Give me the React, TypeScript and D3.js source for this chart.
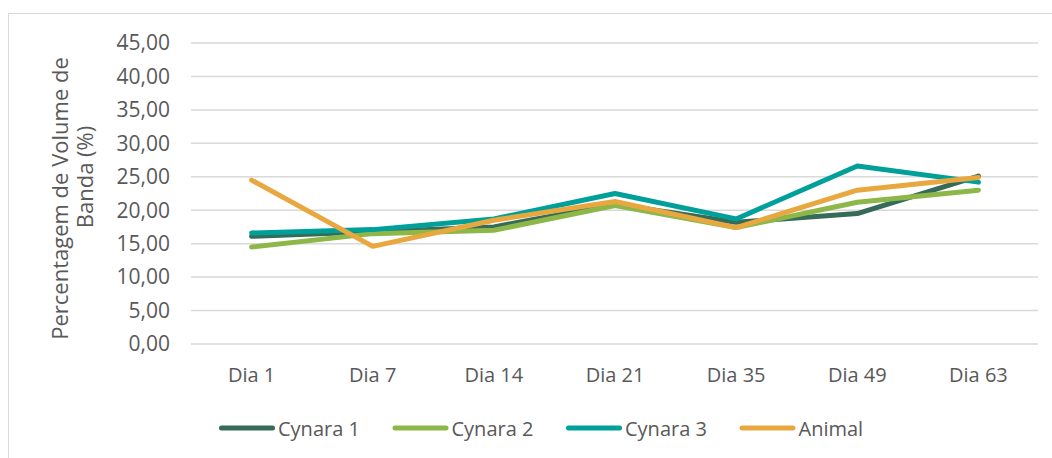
import React from "react";
import * as d3 from "d3";

const categories = ["Dia 1", "Dia 7", "Dia 14", "Dia 21", "Dia 35", "Dia 49", "Dia 63"];
const seriesNames = ["Cynara 1", "Cynara 2", "Cynara 3", "Animal"];
const cynara1 = [16.1, 16.8, 17.5, 20.9, 18.2, 19.5, 25.1];
const cynara2 = [14.5, 16.5, 17.0, 20.7, 17.4, 21.2, 23.0];
const cynara3 = [16.6, 17.1, 18.7, 22.5, 18.7, 26.6, 24.2];
const animal = [24.5, 14.6, 18.5, 21.3, 17.4, 23.0, 24.9];
const yTicks = [0, 5, 10, 15, 20, 25, 30, 35, 40, 45];
const colors = ["#356B58", "#8DB849", "#00A09A", "#E9A83F"];

const W = 1052;
const H = 458;
const FONT = "'Open Sans', 'Liberation Sans', sans-serif";
const TEXT = "#595959";

export default function App() {
  const allSeries = [cynara1, cynara2, cynara3, animal];
  const x = d3.scalePoint<string>().domain(categories).range([191, 1039]).padding(0.5);
  const y = d3.scaleLinear().domain([0, 45]).range([344, 43]);
  const line = d3
    .line<number>()
    .x((_, i) => x(categories[i]) as number)
    .y((d) => y(d));
  const fmt = (v: number) => v.toFixed(2).replace(".", ",");

  const legendStart = 219;
  const legendStep = 173.5;
  const legendLine = 56;

  return (
    <svg
      width={W}
      height={H}
      style={{ position: "absolute", left: 0, top: 0, display: "block", background: "#fff" }}
      fontFamily={FONT}
    >
      <rect x={8.5} y={13.5} width={1200} height={600} fill="#fff" stroke="#D9D9D9" strokeWidth={1} />
      {yTicks.map((t) => (
        <g key={t}>
          <line x1={191} x2={1038} y1={y(t)} y2={y(t)} stroke="#D9D9D9" strokeWidth={1.5} />
          <text x={170} y={y(t)} dy="0.35em" textAnchor="end" fontSize={21} fill={TEXT}>
            {fmt(t)}
          </text>
        </g>
      ))}
      {categories.map((c) => (
        <text key={c} x={x(c)} y={381.5} textAnchor="middle" fontSize={20} fill={TEXT}>
          {c}
        </text>
      ))}
      <g transform="translate(68,198.5) rotate(-90)">
        <text x={0} y={0} textAnchor="middle" fontSize={22} fill={TEXT}>
          Percentagem de Volume de
        </text>
      </g>
      <g transform="translate(93,177) rotate(-90)">
        <text x={0} y={0} textAnchor="middle" fontSize={22} fill={TEXT}>
          Banda (%)
        </text>
      </g>
      {allSeries.map((s, i) => (
        <path
          key={seriesNames[i]}
          d={line(s) || ""}
          fill="none"
          stroke={colors[i]}
          strokeWidth={5}
          strokeLinejoin="round"
          strokeLinecap="round"
        />
      ))}
      {seriesNames.map((n, i) => {
        const lx = legendStart + i * legendStep;
        return (
          <g key={n}>
            <line
              x1={lx + 2.5}
              x2={lx + legendLine - 2.5}
              y1={428}
              y2={428}
              stroke={colors[i]}
              strokeWidth={5}
              strokeLinecap="round"
            />
            <text x={lx + legendLine + 3} y={435.5} fontSize={20} fill={TEXT}>
              {n}
            </text>
          </g>
        );
      })}
    </svg>
  );
}
